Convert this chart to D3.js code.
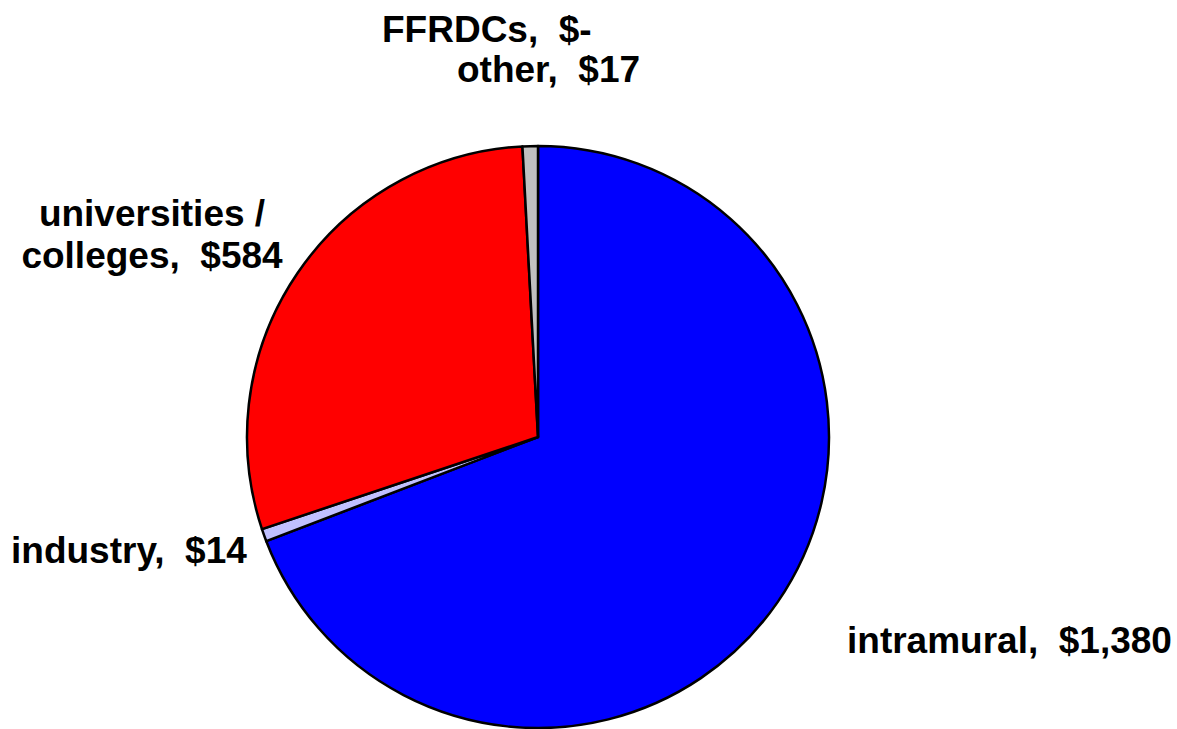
<!DOCTYPE html>
<html>
<head>
    <meta charset="UTF-8">
    <title>R&D funding by performer</title>
    <script src="https://cdn.jsdelivr.net/npm/d3@7"></script>
    <style>
        body { margin: 0; background: #fff; }
        text { font-family: "Liberation Sans", Arial, sans-serif; font-weight: bold; fill: #000; }
    </style>
</head>
<body>
<svg id="pie"></svg>
<script>
    // data
    const performers = ["intramural", "industry", "universities / colleges", "FFRDCs", "other"];
    const amounts = [1380, 14, 584, 0, 17];
    const amountLabels = ["$1,380", "$14", "$584", "$-", "$17"];
    const colors = ["#0000ff", "#c0c0ff", "#ff0000", "#ffff99", "#c0c0c0"];

    const width = 1177, height = 729;
    const cx = 538, cy = 437, radius = 291;

    // label anchors relative to the pie centre (Excel style placement)
    const labelLayout = {
        "intramural": { x: 309, y: 216, anchor: "start", lines: ["intramural,  $1,380"] },
        "industry": { x: -527, y: 126, anchor: "start", lines: ["industry,  $14"] },
        "universities / colleges": { x: -386, y: -211, anchor: "middle", lines: ["universities /", "colleges,  $584"] },
        "FFRDCs": { x: -156, y: -395, anchor: "start", lines: ["FFRDCs,  $-"] },
        "other": { x: -81, y: -355, anchor: "start", lines: ["other,  $17"] }
    };

    const svg = d3.select("#pie")
        .attr("width", width)
        .attr("height", height);

    const g = svg.append("g")
        .attr("transform", `translate(${cx}, ${cy})`);

    const pie = d3.pie()
        .sort(null)
        .value(d => d.value);

    const data = performers.map((p, i) => ({ name: p, value: amounts[i], label: amountLabels[i], color: colors[i] }));
    const arcs = pie(data);

    const arc = d3.arc().innerRadius(0).outerRadius(radius);

    g.selectAll("path")
        .data(arcs.filter(d => d.data.value > 0))
        .join("path")
        .attr("d", arc)
        .attr("fill", d => d.data.color)
        .attr("stroke", "#000")
        .attr("stroke-width", 2.5)
        .attr("stroke-linejoin", "round");

    const labels = g.selectAll("text.lbl")
        .data(arcs)
        .join("text")
        .attr("class", "lbl")
        .attr("font-size", 37)
        .attr("text-anchor", d => labelLayout[d.data.name].anchor)
        .attr("transform", d => `translate(${labelLayout[d.data.name].x}, ${labelLayout[d.data.name].y})`);

    labels.selectAll("tspan")
        .data(d => labelLayout[d.data.name].lines)
        .join("tspan")
        .attr("x", 0)
        .attr("dy", (d, i) => i === 0 ? 0 : 42)
        .attr("xml:space", "preserve")
        .style("white-space", "pre")
        .text(d => d);
</script>
</body>
</html>
